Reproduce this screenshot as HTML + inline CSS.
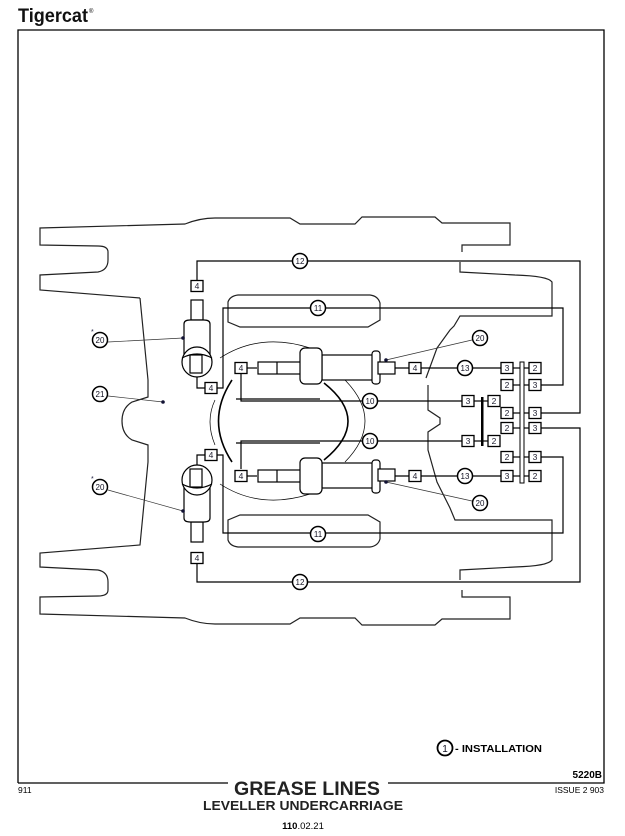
<!DOCTYPE html>
<html><head><meta charset="utf-8"><style>
html,body{margin:0;padding:0;background:#fff;}
svg{display:block;font-family:"Liberation Sans",Arial,sans-serif;}
</style></head><body>
<svg width="625" height="836" viewBox="0 0 625 836" xmlns="http://www.w3.org/2000/svg">
<defs>
<g id="b"><rect x="-6" y="-5.5" width="12" height="11" fill="#fff" stroke="#000" stroke-width="1.3"/></g>
</defs>
<text x="18" y="22" font-size="19" font-weight="bold" fill="#111" textLength="70" lengthAdjust="spacingAndGlyphs">Tigercat</text>
<text x="89" y="13" font-size="6">®</text>
<!-- frame -->
<path d="M18,783 V30 H604 V783 H388 M228,783 H18" fill="none" stroke="#000" stroke-width="1.3"/>
<g fill="none" stroke="#222" stroke-width="1.2">
<path d="M140,298 L40,290 V275 L98,272 Q108,270 108,260 V252 Q108,246 98,246 L40,245 V228 L185,224 Q200,218 215,218 H290 L300,224 H355 L362,217 H435 L442,223 H510 V245 H462 V252"/>
<path d="M460,262 V272 L515,275 Q548,276 552,282 V308"/>
<path d="M140,298 L148,380 V397 L132,402 Q122,408 122,421 Q122,434 132,440 L148,445 V462 L140,545 L40,553 V567 L98,570 Q108,572 108,582 V590 Q108,596 98,596 L40,597 V614 L185,618 Q200,624 215,624 H290 L300,618 H355 L362,625 H435 L442,619 H510 V597 H462 V590"/>
<path d="M460,580 V570 L515,567 Q548,566 552,560 V534"/>
<path d="M552,308 V316 H460 L454,326 L450,330 L437,348 L426,378 M428,385 V410 L440,418 L440,424 L428,432 V450 L437,482 L450,508 L455,520 H552 V534"/>
<path d="M228,313 V302 Q230,296 238,295 H370 Q378,296 380,303 V320 L368,327 H240 L228,322 Z"/>
<path d="M228,529 V540 Q230,546 238,547 H370 Q378,546 380,539 V522 L368,515 H240 L228,520 Z"/>
</g>
<g fill="none" stroke="#000">
<path d="M232,380 Q205,421 232,462" stroke-width="1.6"/>
<path d="M324,383 Q372,421 324,460" stroke-width="1.6"/>
<path d="M220,358 Q260,332 310,348" stroke-width="0.7"/>
<path d="M345,380 Q385,421 345,462" stroke-width="0.7"/>
<path d="M215,400 Q205,421 215,445" stroke-width="0.7"/>
<path d="M220,484 Q260,510 310,494" stroke-width="0.7"/>
</g>
<g fill="none" stroke="#000" stroke-width="1.2">
<path d="M197,280 V261 H580 V413 H541"/>
<path d="M197,564 V582 H580 V428 H541"/>
<path d="M217,388 H223 V308 H563 V385 H541"/>
<path d="M217,455 H223 V533 H563 V457 H541"/>
<path d="M241,374 V401 H462"/><path d="M241,469 V441 H462"/>
<path d="M395,368 H501"/><path d="M395,476 H501"/>
<path d="M474,401 H488"/><path d="M474,441 H488"/>
<path d="M513,368 H529"/><path d="M513,385 H529"/><path d="M513,413 H529"/><path d="M513,428 H529"/><path d="M513,457 H529"/><path d="M513,476 H529"/>
<path d="M236,399 H320" /><path d="M236,443 H320"/>
<path d="M247,368 H257"/><path d="M247,476 H257"/>
<path d="M197,372 V388 H205"/><path d="M197,470 V455 H205"/>
</g>
<rect x="520" y="362" width="4" height="121" fill="#fff" stroke="#000"/>
<rect x="481" y="397" width="2.5" height="49" fill="#000"/>
<g fill="#fff" stroke="#000" stroke-width="1.2">
<rect x="191" y="300" width="12" height="20"/>
<path d="M184,355 V324 Q184,320 190,320 H204 Q210,320 210,324 V355"/>
<circle cx="197" cy="362" r="15"/><path d="M182,358 Q197,350 212,358" fill="none"/>
<rect x="190" y="355" width="12" height="18"/>
<rect x="191" y="522" width="12" height="20"/>
<path d="M184,487 V518 Q184,522 190,522 H204 Q210,522 210,518 V487"/>
<circle cx="197" cy="480" r="15"/><path d="M182,484 Q197,492 212,484" fill="none"/>
<rect x="190" y="469" width="12" height="18"/>
</g>
<g fill="#fff" stroke="#000" stroke-width="1.2">
<rect x="258" y="362" width="62" height="12"/><line x1="277" y1="362" x2="277" y2="374"/>
<rect x="322" y="355" width="52" height="25"/>
<rect x="300" y="348" width="22" height="36" rx="5"/>
<rect x="372" y="351" width="8" height="33" rx="3"/>
<rect x="378" y="362" width="17" height="12"/>
<rect x="258" y="470" width="62" height="12"/><line x1="277" y1="470" x2="277" y2="482"/>
<rect x="322" y="463" width="52" height="25"/>
<rect x="300" y="458" width="22" height="36" rx="5"/>
<rect x="372" y="460" width="8" height="33" rx="3"/>
<rect x="378" y="469" width="17" height="12"/>
</g>
<g stroke="#333" stroke-width="0.7">
<line x1="108" y1="342" x2="183" y2="338"/><line x1="108" y1="490" x2="183" y2="511"/>
<line x1="108" y1="396" x2="163" y2="402"/>
<line x1="386" y1="360" x2="472" y2="340"/><line x1="386" y1="482" x2="472" y2="501"/>
</g>
<g fill="#113">
<circle cx="183" cy="338" r="1.8"/><circle cx="183" cy="511" r="1.8"/><circle cx="163" cy="402" r="1.8"/>
<circle cx="386" cy="360" r="1.8"/><circle cx="386" cy="482" r="1.8"/>
</g>
<g font-size="8.5" text-anchor="middle" fill="#223">
<g transform="translate(197,286)"><use href="#b"/><text y="3">4</text></g>
<g transform="translate(211,388)"><use href="#b"/><text y="3">4</text></g>
<g transform="translate(211,455)"><use href="#b"/><text y="3">4</text></g>
<g transform="translate(197,558)"><use href="#b"/><text y="3">4</text></g>
<g transform="translate(241,368)"><use href="#b"/><text y="3">4</text></g>
<g transform="translate(241,476)"><use href="#b"/><text y="3">4</text></g>
<g transform="translate(415,368)"><use href="#b"/><text y="3">4</text></g>
<g transform="translate(415,476)"><use href="#b"/><text y="3">4</text></g>
<g transform="translate(468,401)"><use href="#b"/><text y="3">3</text></g>
<g transform="translate(494,401)"><use href="#b"/><text y="3">2</text></g>
<g transform="translate(468,441)"><use href="#b"/><text y="3">3</text></g>
<g transform="translate(494,441)"><use href="#b"/><text y="3">2</text></g>
<g transform="translate(507,368)"><use href="#b"/><text y="3">3</text></g>
<g transform="translate(535,368)"><use href="#b"/><text y="3">2</text></g>
<g transform="translate(507,385)"><use href="#b"/><text y="3">2</text></g>
<g transform="translate(535,385)"><use href="#b"/><text y="3">3</text></g>
<g transform="translate(507,413)"><use href="#b"/><text y="3">2</text></g>
<g transform="translate(535,413)"><use href="#b"/><text y="3">3</text></g>
<g transform="translate(507,428)"><use href="#b"/><text y="3">2</text></g>
<g transform="translate(535,428)"><use href="#b"/><text y="3">3</text></g>
<g transform="translate(507,457)"><use href="#b"/><text y="3">2</text></g>
<g transform="translate(535,457)"><use href="#b"/><text y="3">3</text></g>
<g transform="translate(507,476)"><use href="#b"/><text y="3">3</text></g>
<g transform="translate(535,476)"><use href="#b"/><text y="3">2</text></g>
</g>
<g font-size="8" text-anchor="middle" fill="#112">
<g stroke="#000" stroke-width="1.5" fill="#fff">
<circle cx="300" cy="261" r="7.5"/><circle cx="300" cy="582" r="7.5"/>
<circle cx="318" cy="308" r="7.5"/><circle cx="318" cy="534" r="7.5"/>
<circle cx="370" cy="401" r="7.5"/><circle cx="370" cy="441" r="7.5"/>
<circle cx="465" cy="368" r="7.5"/><circle cx="465" cy="476" r="7.5"/>
<circle cx="480" cy="338" r="7.5"/><circle cx="480" cy="503" r="7.5"/>
<circle cx="100" cy="340" r="7.5"/><circle cx="100" cy="487" r="7.5"/><circle cx="100" cy="394" r="7.5"/>
<circle cx="445" cy="748" r="7.5" stroke-width="1.8"/>
</g>
<text x="300" y="264">12</text><text x="300" y="585">12</text>
<text x="318" y="311">11</text><text x="318" y="537">11</text>
<text x="370" y="404">10</text><text x="370" y="444">10</text>
<text x="465" y="371">13</text><text x="465" y="479">13</text>
<text x="480" y="341">20</text><text x="480" y="506">20</text>
<text x="100" y="343">20</text><text x="100" y="490">20</text><text x="100" y="397">21</text>
<text x="445" y="752" font-size="10">1</text>
</g>
<text x="91" y="334" font-size="7" fill="#224">*</text>
<text x="91" y="481" font-size="7" fill="#224">*</text>
<text x="455" y="752" font-size="10" font-weight="bold" textLength="87" lengthAdjust="spacingAndGlyphs">- INSTALLATION</text>
<text x="602" y="778" font-size="10" font-weight="bold" text-anchor="end">5220B</text>
<text x="604" y="793" font-size="8.5" text-anchor="end">ISSUE 2 903</text>
<text x="18" y="793" font-size="8.5">911</text>
<text x="234" y="795" font-size="19" font-weight="bold" fill="#222" textLength="146" lengthAdjust="spacingAndGlyphs">GREASE LINES</text>
<text x="203" y="810" font-size="12.5" font-weight="bold" fill="#222" textLength="200" lengthAdjust="spacingAndGlyphs">LEVELLER UNDERCARRIAGE</text>
<text x="303" y="829" font-size="9.5" text-anchor="middle"><tspan font-weight="bold">110</tspan>.02.21</text>
</svg>
</body></html>
